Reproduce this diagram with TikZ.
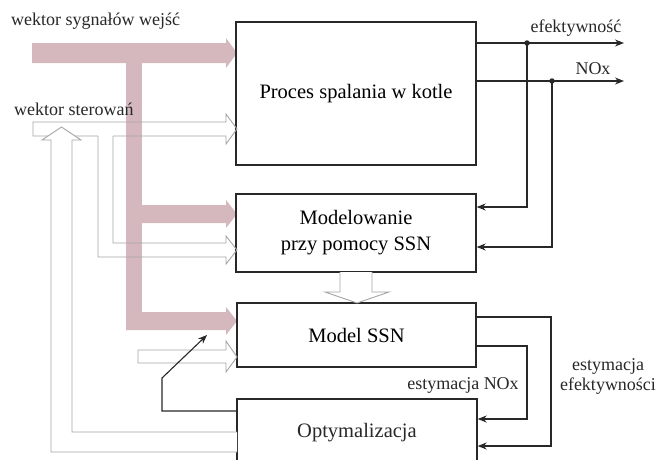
\documentclass[tikz,border=0pt]{standalone}
\usepackage{fontspec}
\setmainfont{Liberation Serif}
\usetikzlibrary{arrows.meta}
\definecolor{pinkbar}{RGB}{212,184,190}
\definecolor{hollow}{RGB}{165,165,165}
\definecolor{ink}{RGB}{40,40,40}
\tikzset{
  blockbox/.style={draw=ink, line width=1.4pt, fill=white, inner sep=0pt, font=\fontsize{20.5}{26}\selectfont, align=center},
  lbl/.style={inner sep=0pt, font=\fontsize{18}{22}\selectfont, text=ink, align=center},
  sig/.style={draw=ink, line width=1.1pt},
  sigarrow/.style={sig, -{Stealth[length=9pt,width=7pt]}},
  hollowline/.style={draw=hollow, line width=0.9pt, line join=miter},
  dot/.style={circle, fill=ink, inner sep=0pt, minimum size=5.5pt},
}
\begin{document}
\begin{tikzpicture}[x=1pt,y=-1pt]
\useasboundingbox (0,0) rectangle (657,459);
\clip (0,0) rectangle (657,459);
\fill[white] (0,0) rectangle (657,459);

% pink thick arrows (input signals)
\fill[pinkbar] (32,43) -- (226,43) -- (226,38) -- (237,53) -- (226,68) -- (226,63) -- (32,63) -- cycle;
\fill[pinkbar] (126,60) rectangle (142,330);
\fill[pinkbar] (140,205) -- (226,205) -- (226,200) -- (237,214) -- (226,228) -- (226,223) -- (140,223) -- cycle;
\fill[pinkbar] (126,312) -- (226,312) -- (226,307) -- (237,321) -- (226,335) -- (226,330) -- (126,330) -- cycle;

% blocks
\node[blockbox, minimum width=240pt, minimum height=143pt] (proc) at (356,93.5) {Proces spalania w kotle};
\node[blockbox, minimum width=240pt, minimum height=78pt] (mod) at (356,233) {Modelowanie\\[0pt]przy pomocy SSN};
\node[blockbox, minimum width=239pt, minimum height=64pt] (ssn) at (356.5,335) {Model SSN};
\node[blockbox, minimum width=240pt, minimum height=80pt] (opt) at (357,439) {};
\node[lbl, font=\fontsize{20.5}{26}\selectfont] (optlbl) at (357,433) {Optymalizacja};

% hollow arrows (control vector)
\path[hollowline] (98,136) -- (33,136) -- (33,122) -- (226,122) -- (226,114) -- (237,129) -- (226,144) -- (226,136) -- (113,136);
\path[hollowline] (113,136) -- (113,243) -- (226,243) -- (226,236) -- (237,250) -- (226,264) -- (226,257) -- (98,257) -- (98,136);
\path[hollowline] (138,350) -- (226,350) -- (226,341) -- (237,357) -- (226,372) -- (226,363) -- (138,363) -- cycle;
\path[hollowline, fill=white] (237,432) -- (72,432) -- (72,140) -- (81,140) -- (61.5,127) -- (42,140) -- (51,140) -- (51,452) -- (237,452);
\path[hollowline, fill=white] (340,272) -- (340,292) -- (325,292) -- (357,303) -- (389,292) -- (372,292) -- (372,272);

% outputs of the process
\coordinate (effout) at (624,43);
\coordinate (noxout) at (624,81);
\node[dot] (d1) at (527,43) {};
\node[dot] (d2) at (552,81) {};
\draw[sigarrow] (proc.east |- d1) -- (effout);
\draw[sigarrow] (proc.east |- d2) -- (noxout);
\draw[sigarrow] (d1.center) -- (527,207) -- (mod.east |- 0,207);
\draw[sigarrow] (d2.center) -- (552,247) -- (mod.east |- 0,247);

% estimations
\draw[sigarrow] (ssn.east |- 0,317) -- (551,317) -- (551,446) -- (opt.east |- 0,446);
\draw[sigarrow] (ssn.east |- 0,346) -- (527,346) -- (527,419) -- (opt.east |- 0,419);

% tuning arrow
\draw[sigarrow] (opt.west |- 0,411) -- (162,411) -- (162,378) -- (207,335);

% labels
\node[lbl, anchor=west] (win) at (11,21) {wektor sygnałów wejść};
\node[lbl, anchor=west] (wst) at (14,109) {wektor sterowań};
\node[lbl] (leff) at (576,28) {efektywność};
\node[lbl] (lnox) at (593,69) {NOx};
\node[lbl] (lestn) at (463,385) {estymacja NOx};
\node[lbl] (leste) at (608,376) {estymacja\\[-2pt]efektywności};
\end{tikzpicture}
\end{document}
